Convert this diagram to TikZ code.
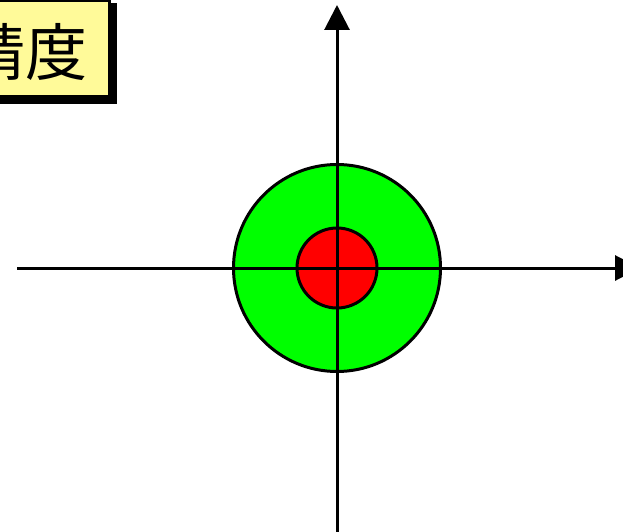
\documentclass[tikz,border=0pt]{standalone}
\usepackage{fontspec}
\newfontfamily\cjk{Noto Sans CJK JP}
\usetikzlibrary{arrows.meta}
\begin{document}
\begin{tikzpicture}[x=1pt,y=-1pt,
  ring/.style={circle,draw=black,line width=3pt,inner sep=0pt},
  axis/.style={line width=3pt,-{Triangle[length=25pt,width=25pt]}},
  label box/.style={draw=black,line width=3pt,fill=yellow!40!white}]
\useasboundingbox (0,0) rectangle (623,532);
\fill[black] (-20,3) rectangle (117,104);
\draw[label box] (-30,1) rectangle (109,97);
\node[font=\cjk\fontsize{62}{62}\selectfont,inner sep=0pt] (title) at (26,52) {精度};
\coordinate (c) at (337,268);
\node[ring,fill={rgb,255:red,0;green,255;blue,0},minimum size=207pt] (outer) at (c) {};
\node[ring,fill={rgb,255:red,255;green,0;blue,0},minimum size=80pt] (inner) at (c) {};
\coordinate (xs) at (17,268);
\coordinate (xe) at (640,268);
\coordinate (ys) at (337,540);
\coordinate (ye) at (337,5);
\draw[axis] (xs) -- (xe);
\draw[axis] (ys) -- (ye);
\end{tikzpicture}
\end{document}
